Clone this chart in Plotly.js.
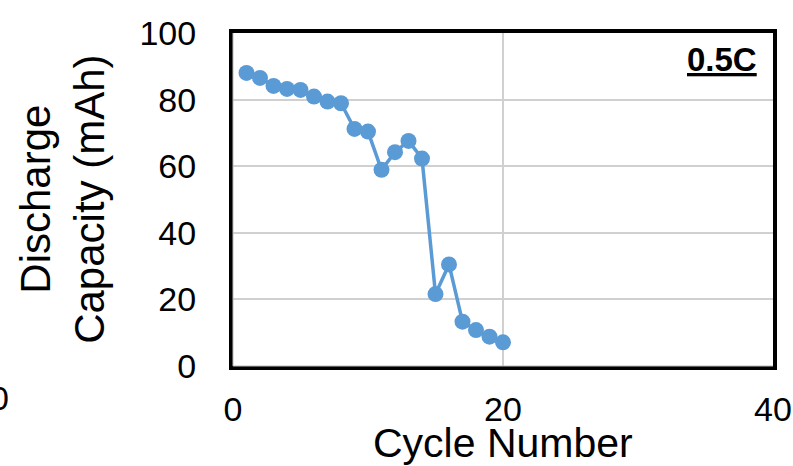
<!DOCTYPE html>
<html>
<head>
<meta charset="utf-8">
<script src="https://cdn.plot.ly/plotly-3.0.1.min.js"></script>
<style>
  html, body { margin: 0; padding: 0; background: #fff; }
  #chart { width: 793px; height: 466px; }
</style>
</head>
<body>
<div id="chart"></div>
<script>
// Discharge capacity per cycle at 0.5C
const cycles = [1, 2, 3, 4, 5, 6, 7, 8, 9, 10, 11, 12, 13, 14, 15, 16, 17, 18, 19, 20];
const capacity = [88.0, 86.5, 84.1, 83.2, 82.9, 80.9, 79.4, 78.9, 71.2, 70.4,
                  58.9, 64.2, 67.6, 62.3, 21.6, 30.5, 13.3, 10.8, 8.8, 7.1];
const xTicks = [0, 20, 40];
const yTicks = [0, 20, 40, 60, 80, 100];
const rateLabel = '0.5C';

const FONT = 'Liberation Sans, Arial, Helvetica, sans-serif';
const BLUE = '#5b9bd5';

const trace = {
  x: cycles,
  y: capacity,
  type: 'scatter',
  mode: 'lines+markers',
  line: { color: BLUE, width: 3.5 },
  marker: { color: BLUE, size: 16 },
  showlegend: false,
  hoverinfo: 'x+y'
};

const layout = {
  width: 793,
  height: 466,
  margin: { l: 233, r: 20, t: 33, b: 100 },
  paper_bgcolor: '#fff',
  plot_bgcolor: '#fff',
  font: { family: FONT, color: '#000', size: 34 },
  xaxis: {
    range: [0, 40],
    tickvals: xTicks,
    ticktext: xTicks.map(String),
    showgrid: true,
    gridcolor: '#d0d0d0',
    gridwidth: 2,
    zeroline: false,
    showline: true,
    linecolor: '#000',
    linewidth: 4,
    mirror: true,
    ticks: '',
    ticklabelstandoff: 10,
    tickfont: { size: 34 }
  },
  yaxis: {
    range: [0, 100],
    tickvals: yTicks,
    ticktext: yTicks.map(String),
    showgrid: true,
    gridcolor: '#d0d0d0',
    gridwidth: 2,
    zeroline: false,
    showline: true,
    linecolor: '#000',
    linewidth: 4,
    mirror: true,
    ticks: '',
    ticklabelstandoff: 26,
    tickfont: { size: 34 }
  },
  shapes: [
    // thin light inner stroke on the left and bottom frame edges
    { type: 'line', xref: 'paper', yref: 'paper', x0: 0, x1: 0, y0: 0, y1: 1,
      line: { color: '#bbbbbb', width: 1 } },
    { type: 'line', xref: 'paper', yref: 'paper', x0: 0, x1: 1, y0: 0, y1: 0,
      line: { color: '#bbbbbb', width: 1 } }
  ],
  annotations: [
    {
      text: 'Discharge<br>Capacity (mAh)',
      xref: 'paper', yref: 'paper',
      x: -0.316, y: 0.5,
      xanchor: 'center', yanchor: 'middle',
      textangle: -90,
      showarrow: false,
      font: { family: FONT, size: 42, color: '#000' }
    },
    {
      text: 'Cycle Number',
      xref: 'paper', yref: 'paper',
      x: 0.5, y: -0.23,
      xanchor: 'center', yanchor: 'middle',
      showarrow: false,
      font: { family: FONT, size: 41, color: '#000' }
    },
    {
      text: '<b><u>' + rateLabel + '</u></b>',
      xref: 'paper', yref: 'paper',
      x: 0.9056, y: 0.919,
      xanchor: 'center', yanchor: 'middle',
      showarrow: false,
      font: { family: FONT, size: 33, color: '#000' }
    },
    {
      // tick label of the neighbouring panel, cut by the left edge
      text: '40',
      xref: 'paper', yref: 'paper',
      x: -0.411, y: -0.096,
      xanchor: 'right', yanchor: 'middle',
      showarrow: false,
      font: { family: FONT, size: 34, color: '#000' }
    }
  ]
};

Plotly.newPlot('chart', [trace], layout, { displayModeBar: false, staticPlot: true });
</script>
</body>
</html>
